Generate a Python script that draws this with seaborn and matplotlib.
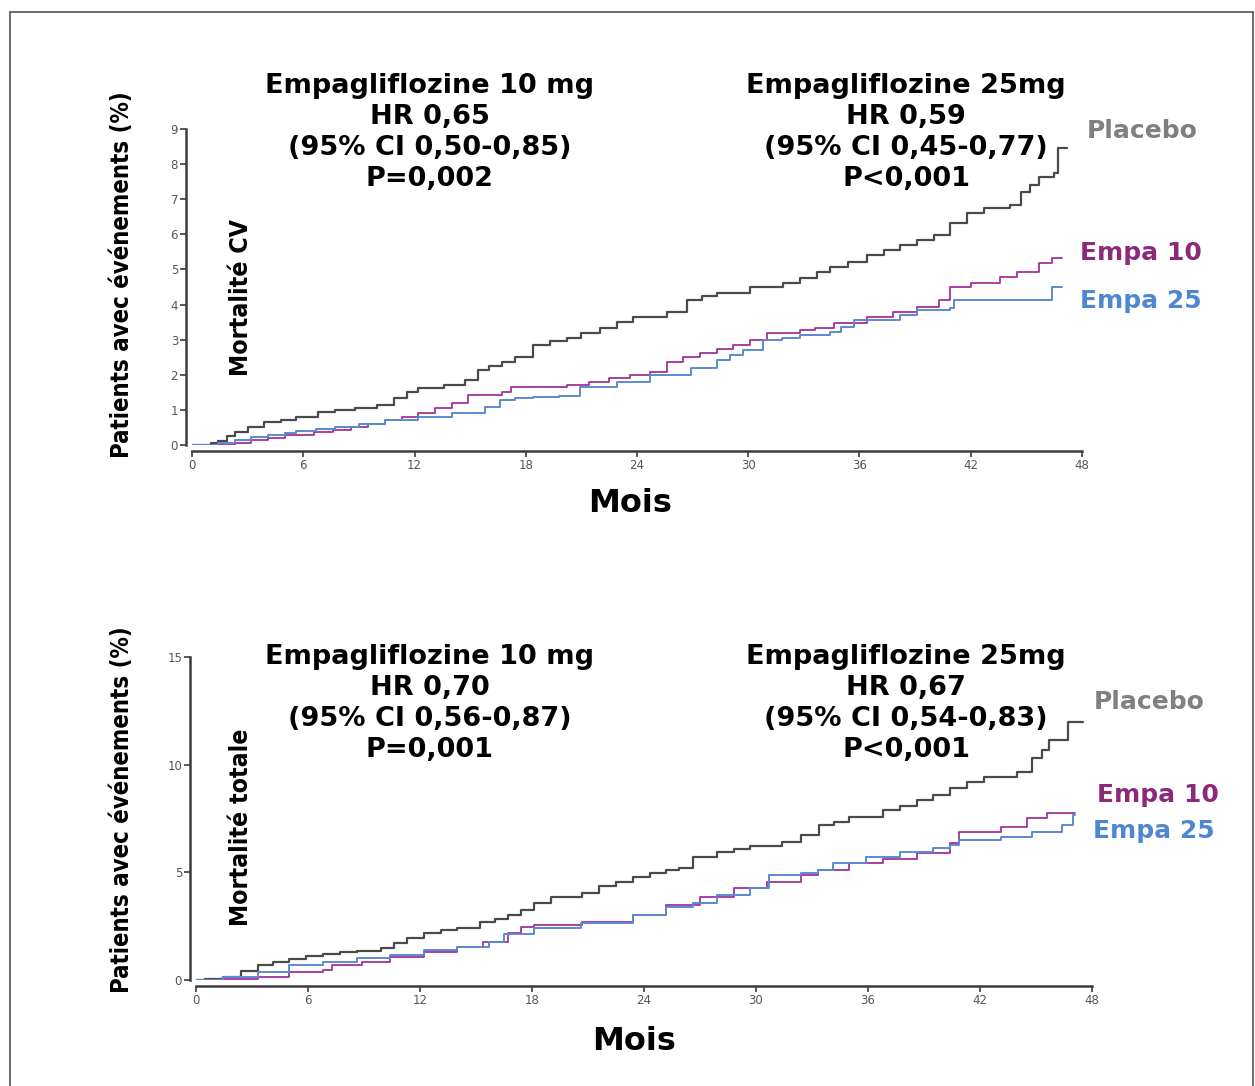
import matplotlib
matplotlib.use("Agg")
import matplotlib.pyplot as plt
import seaborn as sns
import pandas as pd
from matplotlib.lines import Line2D
from matplotlib import font_manager

# Donnees (mois, % patients avec evenements)
mois_cv_placebo = [0, 1.0, 1.4, 1.9, 2.3, 3.0, 3.9, 4.8, 5.6, 6.8, 7.7, 8.8, 10.0, 10.9, 11.6, 12.2, 13.6, 14.7, 15.4, 16.0,
                   16.7, 17.4, 18.4, 19.3, 20.2, 21.0, 22.0, 22.9, 23.8, 25.6, 26.7, 27.5, 28.3, 30.1, 31.9, 32.8, 33.7,
                   34.4, 35.4, 36.4, 37.3, 38.2, 39.1, 40.0, 40.9, 41.8, 42.7, 44.1, 44.7, 45.2, 45.7, 46.5, 46.7, 47.2]
cv_placebo = [0, 0.05, 0.12, 0.25, 0.37, 0.5, 0.66, 0.72, 0.8, 0.94, 1.0, 1.05, 1.14, 1.33, 1.5, 1.62, 1.71, 1.85, 2.14, 2.25,
              2.37, 2.5, 2.85, 2.95, 3.05, 3.2, 3.33, 3.5, 3.65, 3.79, 4.13, 4.25, 4.33, 4.5, 4.61, 4.75, 4.93,
              5.07, 5.2, 5.41, 5.55, 5.7, 5.85, 5.98, 6.32, 6.6, 6.75, 6.84, 7.2, 7.4, 7.63, 7.74, 8.46, 8.46]

mois_cv_e10 = [0, 1.4, 2.3, 3.2, 4.1, 5.0, 6.6, 7.6, 8.6, 9.5, 10.4, 11.3, 12.2, 13.1, 14.0, 14.9, 16.7, 17.2, 20.2, 21.4,
               22.5, 23.6, 24.7, 25.6, 26.5, 27.4, 28.3, 29.2, 30.1, 31.0, 32.8, 33.6, 34.6, 36.4, 37.8, 39.1, 40.3,
               40.9, 42.0, 43.6, 44.5, 45.7, 46.4, 46.9]
cv_e10 = [0, 0.0, 0.07, 0.14, 0.2, 0.28, 0.37, 0.44, 0.51, 0.6, 0.71, 0.8, 0.9, 1.05, 1.2, 1.42, 1.51, 1.65, 1.71, 1.8,
          1.9, 2.0, 2.08, 2.37, 2.5, 2.61, 2.72, 2.85, 3.0, 3.18, 3.27, 3.34, 3.47, 3.65, 3.79, 3.93, 4.13,
          4.5, 4.61, 4.79, 4.93, 5.19, 5.33, 5.33]

mois_cv_e25 = [0, 1.4, 2.3, 3.2, 4.1, 5.0, 5.6, 6.7, 7.7, 9.0, 10.4, 12.2, 14.0, 15.8, 16.6, 17.4, 18.4, 19.8, 20.9, 22.9,
               24.7, 26.9, 28.3, 29.0, 29.7, 30.8, 31.8, 32.8, 34.4, 35.0, 35.7, 38.2, 39.1, 40.9, 41.1, 46.4, 46.9]
cv_e25 = [0, 0.06, 0.14, 0.23, 0.28, 0.34, 0.4, 0.45, 0.51, 0.6, 0.71, 0.8, 0.9, 1.08, 1.28, 1.33, 1.37, 1.4, 1.65, 1.79,
          2.0, 2.19, 2.42, 2.55, 2.7, 2.99, 3.05, 3.13, 3.22, 3.36, 3.56, 3.7, 3.84, 3.9, 4.13, 4.5, 4.5]

mois_tot_placebo = [0, 0.5, 1.45, 2.4, 3.3, 4.1, 5.0, 5.9, 6.8, 7.7, 8.6, 9.9, 10.6, 11.3, 12.2, 13.1, 14.0, 15.2, 16.0,
                    16.7, 17.4, 18.1, 19.0, 20.7, 21.6, 22.5, 23.4, 24.3, 25.2, 25.9, 26.6, 27.9, 28.8, 29.7, 31.4,
                    32.4, 33.4, 34.2, 35.0, 36.8, 37.7, 38.6, 39.5, 40.4, 41.3, 42.2, 44.0, 44.8, 45.3, 45.7, 46.7, 47.5]
tot_placebo = [0, 0.05, 0.14, 0.4, 0.7, 0.85, 0.97, 1.1, 1.21, 1.28, 1.35, 1.49, 1.7, 1.95, 2.18, 2.3, 2.42, 2.7, 2.85,
               3.0, 3.25, 3.57, 3.86, 4.03, 4.37, 4.55, 4.78, 4.95, 5.1, 5.2, 5.72, 5.95, 6.1, 6.22, 6.41,
               6.73, 7.2, 7.34, 7.57, 7.9, 8.1, 8.36, 8.6, 8.92, 9.2, 9.43, 9.66, 10.3, 10.7, 11.15, 12.0, 12.0]

mois_tot_e10 = [0, 1.45, 3.3, 5.0, 6.8, 7.3, 8.9, 10.4, 12.2, 14.0, 15.4, 16.7, 17.4, 18.1, 20.7, 23.4, 25.2, 27.0, 28.8,
                30.6, 32.4, 33.3, 35.0, 36.8, 38.6, 40.4, 40.9, 43.1, 44.5, 45.6, 47.1]
tot_e10 = [0, 0.05, 0.14, 0.37, 0.46, 0.7, 0.84, 1.07, 1.3, 1.53, 1.77, 2.18, 2.46, 2.55, 2.7, 3.0, 3.48, 3.86, 4.27,
           4.55, 4.88, 5.1, 5.43, 5.62, 5.9, 6.36, 6.87, 7.1, 7.52, 7.76, 7.76]

mois_tot_e25 = [0, 1.45, 3.3, 5.0, 6.8, 8.6, 10.4, 12.2, 14.0, 15.7, 16.5, 18.1, 20.6, 23.4, 25.2, 26.6, 27.9, 29.7, 30.7,
                32.4, 33.3, 34.1, 35.9, 37.7, 39.5, 40.4, 40.9, 43.1, 44.8, 46.4, 47.0, 47.1]
tot_e25 = [0, 0.14, 0.37, 0.7, 0.84, 1.02, 1.16, 1.39, 1.53, 1.77, 2.14, 2.42, 2.65, 3.0, 3.39, 3.57, 3.95, 4.27, 4.88,
           4.97, 5.1, 5.43, 5.72, 5.95, 6.13, 6.27, 6.5, 6.64, 6.87, 7.2, 7.66, 7.66]

series = ["Placebo", "Empa 10", "Empa 25"]
couleurs_lignes = ["#4a4a4a", "#a3329a", "#5a8ad4"]
couleurs_textes = ["#808080", "#8b2a78", "#4f86d0"]
epaisseurs = [1.6, 1.3, 1.4]

textes_cv = [["Empagliflozine 10 mg", "HR 0,65", "(95% CI 0,50-0,85)", "P=0,002"],
             ["Empagliflozine 25mg", "HR 0,59", "(95% CI 0,45-0,77)", "P<0,001"]]
textes_tot = [["Empagliflozine 10 mg", "HR 0,70", "(95% CI 0,56-0,87)", "P=0,001"],
              ["Empagliflozine 25mg", "HR 0,67", "(95% CI 0,54-0,83)", "P<0,001"]]

sns.set_theme(style="ticks")
W, H = 1255, 1086
fig = plt.figure(figsize=(W / 100, H / 100), dpi=100)

# police etroite pour les titres verticaux (Calibri-like)
fp_narrow = None
for fam in ["DejaVu Sans", "Liberation Sans Narrow", "Roboto", "Liberation Sans"]:
    for st in ["condensed", "semi-condensed", "normal"]:
        fp = font_manager.FontProperties(family=fam, stretch=st, weight="bold")
        f = font_manager.findfont(fp, fallback_to_default=False)
        if "ondensed" in f or "Narrow" in f:
            fp_narrow = fp
            break
    if fp_narrow is not None:
        break
if fp_narrow is None:
    fp_narrow = font_manager.FontProperties(family="Liberation Sans", weight="bold")


def px(x, y):
    return x / W, 1 - y / H


def axes_px(x0, x1, y0, y1):
    return fig.add_axes([x0 / W, 1 - y1 / H, (x1 - x0) / W, (y1 - y0) / H])


def vtext(xc, yc, s, longueur):
    t = fig.text(*px(xc, yc), s, rotation=90, ha="center", va="center", fontproperties=fp_narrow.copy(),
                 color="black")
    t.set_fontsize(20)
    r = fig.canvas.get_renderer()
    h = t.get_window_extent(r).height
    t.set_fontsize(20 * longueur / h)
    return t


def panneau(ax, donnees, ymax, yticks, textes, ypx, lab_pos):
    for (m, v), nom, c, lw in zip(donnees, series, couleurs_lignes, epaisseurs):
        df = pd.DataFrame({"Mois": m, "Pct": v})
        sns.lineplot(data=df, x="Mois", y="Pct", ax=ax, color=c, lw=lw, drawstyle="steps-post",
                     estimator=None, sort=True)
    ax.set_xlim(0, 48)
    ax.set_ylim(0, ymax)
    ax.set_xticks(range(0, 49, 6))
    ax.set_yticks(yticks)
    ax.set_xlabel("")
    ax.set_ylabel("")
    sns.despine(ax=ax, offset=4)
    for s in ["left", "bottom"]:
        ax.spines[s].set_color("#3c3c3c")
        ax.spines[s].set_linewidth(1.8)
    ax.tick_params(length=4, width=1.2, color="#3c3c3c", labelsize=8.5, labelcolor="#555555", pad=2)
    ax.patch.set_alpha(0)
    for bloc, xc in zip(textes, [430, 906]):
        for i, t in enumerate(bloc):
            fig.text(*px(xc, ypx + 31 * i), t, ha="center", va="center", fontsize=19.5, fontweight="bold",
                     color="black")
    for nom, c, (xl, yl) in zip(series, couleurs_textes, lab_pos):
        fig.text(*px(xl, yl), nom, ha="center", va="center", fontsize=18, fontweight="bold", color=c)


ax1 = axes_px(192, 1082, 129, 445)
panneau(ax1, [(mois_cv_placebo, cv_placebo), (mois_cv_e10, cv_e10), (mois_cv_e25, cv_e25)],
        9, range(0, 10), textes_cv, 86, [(1142, 131), (1141, 253), (1141, 301)])
ax2 = axes_px(196, 1092, 657, 980)
panneau(ax2, [(mois_tot_placebo, tot_placebo), (mois_tot_e10, tot_e10), (mois_tot_e25, tot_e25)],
        15, [0, 5, 10, 15], textes_tot, 657, [(1149, 702), (1158, 795), (1154, 831)])

# titres des axes
vtext(122, 275, "Patients avec événements (%)", 368)
vtext(122, 810, "Patients avec événements (%)", 368)
vtext(241, 297, "Mortalité CV", 158)
vtext(241, 827, "Mortalité totale", 198)
fig.text(*px(630, 503), "Mois", ha="center", va="center", fontsize=23, fontweight="bold", color="black")
fig.text(*px(634, 1042), "Mois", ha="center", va="center", fontsize=23, fontweight="bold", color="black")

# cadre
for xs, ys in [([10, 1253], [12, 12]), ([10, 10], [12, 1086]), ([1253, 1253], [12, 1086])]:
    fig.add_artist(Line2D([x / W for x in xs], [1 - y / H for y in ys], color="#555555", lw=1.2))

fig.savefig("out.png", dpi=100)
